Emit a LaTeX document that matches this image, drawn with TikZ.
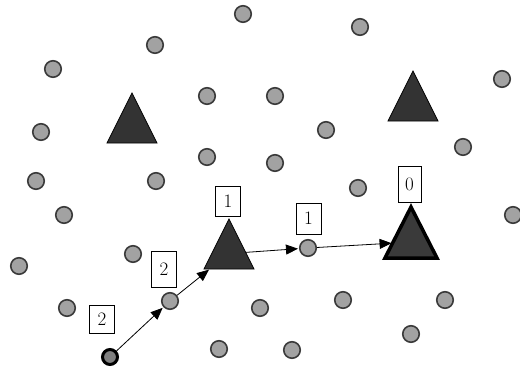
\documentclass[tikz,border=0pt]{standalone}
\usetikzlibrary{shapes.geometric,arrows.meta}
\definecolor{dotfill}{HTML}{A2A2A2}
\definecolor{dotline}{HTML}{3A3A3A}
\definecolor{trifill}{HTML}{333333}
\definecolor{targetfill}{HTML}{3A3A3A}
\tikzset{
  dot/.style={circle,draw=dotline,fill=dotfill,line width=1.6pt,minimum size=16.5pt,inner sep=0pt},
  srcdot/.style={dot,draw=black,line width=3pt,minimum size=15pt,fill=gray},
  tri/.style={isosceles triangle,isosceles triangle stretches,shape border rotate=90,
    draw=black,fill=trifill,line width=0.8pt,minimum width=50pt,minimum height=50pt,inner sep=0pt,outer sep=0pt,anchor=apex},
  target/.style={tri,line width=3.5pt,minimum width=52pt,minimum height=51pt,fill=targetfill},
  lbl/.style={draw=black,fill=white,line width=0.8pt,minimum width=25pt,inner sep=0pt,font=\fontsize{19}{19}\selectfont},
  hop/.style={draw=black,line width=0.8pt,-{Triangle[length=12pt,width=10pt]},shorten >=1pt}
}
\begin{document}
\begin{tikzpicture}[x=1pt,y=-1pt]
\useasboundingbox (0,0) rectangle (520,370);
% triangles
\node[tri] (t1) at (132,93) {};
\node[tri] (t2) at (413,71) {};
\node[tri] (t3) at (229,219) {};
\node[target] (t4) at (411,207) {};
% dots
\node[dot] (c1) at (243,14) {};
\node[dot] (c2) at (155,45) {};
\node[dot] (c3) at (360,27) {};
\node[dot] (c4) at (53,69) {};
\node[dot] (c5) at (502,79) {};
\node[dot] (c6) at (207,96) {};
\node[dot] (c7) at (275,96) {};
\node[dot] (c8) at (41,132) {};
\node[dot] (c9) at (326,130) {};
\node[dot] (c10) at (463,147) {};
\node[dot] (c11) at (207,157) {};
\node[dot] (c12) at (275,163) {};
\node[dot] (c13) at (36,181) {};
\node[dot] (c14) at (156,181) {};
\node[dot] (c15) at (358,188) {};
\node[dot] (c16) at (64,215) {};
\node[dot] (c17) at (513,215) {};
\node[dot] (c18) at (133,254) {};
\node[dot] (c19) at (308,248) {};
\node[dot] (c20) at (19,266) {};
\node[dot] (c21) at (170,301) {};
\node[dot] (c22) at (67,308) {};
\node[dot] (c23) at (260,308) {};
\node[dot] (c24) at (343,300) {};
\node[dot] (c25) at (445,300) {};
\node[dot] (c26) at (411,334) {};
\node[dot] (c27) at (219,349) {};
\node[dot] (c28) at (292,350) {};
\node[srcdot] (src) at (110,357) {};
% path
\draw[hop] (src) -- (c21);
\draw[hop] (c21) -- (t3);
\draw[hop] (t3) -- (c19);
\draw[hop] (c19) -- (t4);
% labels
\node[lbl,minimum height=28pt] (l1) at (102,319.5) {2};
\node[lbl,minimum height=36pt] (l2) at (164,269.5) {2};
\node[lbl,minimum height=30pt] (l3) at (228,201) {1};
\node[lbl,minimum height=31pt] (l4) at (308.5,218.5) {1};
\node[lbl,minimum height=36pt,minimum width=23pt] (l5) at (409.5,184) {0};
\end{tikzpicture}
\end{document}
